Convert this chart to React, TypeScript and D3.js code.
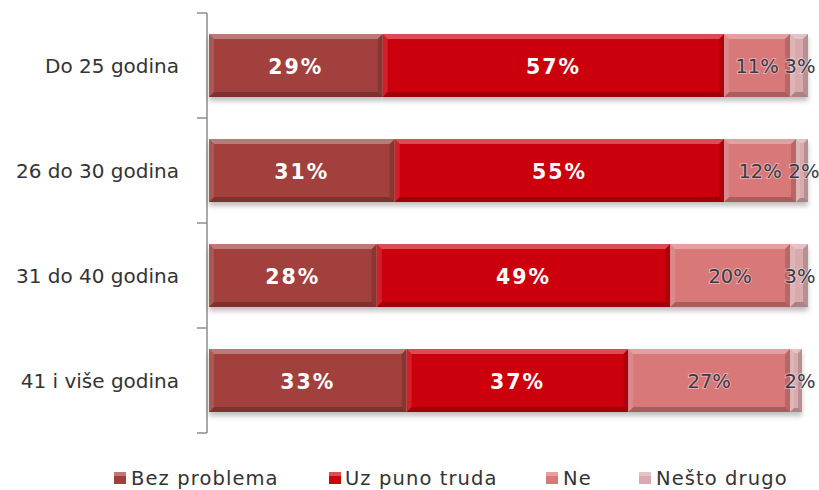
import React from "react";
import * as d3 from "d3";

const categories = ["Do 25 godina", "26 do 30 godina", "31 do 40 godina", "41 i više godina"];
const seriesNames = ["Bez problema", "Uz puno truda", "Ne", "Nešto drugo"];
const bezProblema = [29, 31, 28, 33];
const uzPunoTruda = [57, 55, 49, 37];
const ne = [11, 12, 20, 27];
const nestoDrugo = [3, 2, 3, 2];
const seriesValues = [bezProblema, uzPunoTruda, ne, nestoDrugo];
const colors = ["#a13f3d", "#cc0608", "#d97878", "#d9aaad"];
const labelColors = ["#ffffff", "#ffffff", "#3a3a48", "#3a3a48"];

const W = 819;
const H = 490;
const FONT = "DejaVu Sans, Verdana, sans-serif";

export default function App() {
  const y = d3.scaleBand<string>().domain(categories).range([13, 433]).paddingInner(0.4).paddingOuter(0.2);
  const x = d3.scaleLinear().domain([0, 100]).range([209, 808]);
  const step = y.step();
  const bw = y.bandwidth();
  const bev = 5;

  const boundaries = d3.range(categories.length + 1).map((i) => 13 + i * step);

  const legend = [
    { sq: 114, tx: 131, name: seriesNames[0] },
    { sq: 329, tx: 345, name: seriesNames[1] },
    { sq: 546, tx: 563, name: seriesNames[2] },
    { sq: 639, tx: 656, name: seriesNames[3] },
  ];

  return (
    <svg width={W} height={H} style={{ position: "absolute", left: 0, top: 0, background: "#fff" }}>
      <defs>
        <filter id="sh" x="-5%" y="-20%" width="110%" height="160%">
          <feDropShadow dx="0" dy="4" stdDeviation="2.5" floodColor="#000" floodOpacity="0.25" />
        </filter>
      </defs>
      <line x1={207} x2={207} y1={13} y2={433} stroke="#8c8c8c" strokeWidth={1.5} />
      {boundaries.map((b, i) => (
        <line key={i} x1={197} x2={207} y1={b} y2={b} stroke="#8c8c8c" strokeWidth={1.5} />
      ))}
      {categories.map((c, ci) => {
        const y0 = y(c)!;
        let cum = 0;
        const segs = seriesValues.map((s, si) => {
          const v = s[ci];
          const x0 = x(cum);
          cum += v;
          const x1 = x(cum);
          return { x0, x1, v, si };
        });
        return (
          <g key={c}>
            <text x={179} y={y0 + bw / 2} textAnchor="end" dominantBaseline="central" fontFamily={FONT} fontSize={20} fill="#333">
              {c}
            </text>
            <g filter="url(#sh)">
              {segs.map((s) => (
                <rect key={s.si} x={s.x0} y={y0} width={s.x1 - s.x0} height={bw} fill={colors[s.si]} />
              ))}
            </g>
            {segs.map((s) => {
              const w = s.x1 - s.x0;
              const b = Math.min(bev, w / 3);
              return (
                <g key={"b" + s.si}>
                  <polygon points={`${s.x0},${y0} ${s.x1},${y0} ${s.x1 - b},${y0 + b} ${s.x0 + b},${y0 + b}`} fill="#fff" opacity={0.3} />
                  <polygon points={`${s.x0},${y0 + bw} ${s.x1},${y0 + bw} ${s.x1 - b},${y0 + bw - b} ${s.x0 + b},${y0 + bw - b}`} fill="#000" opacity={0.22} />
                  <polygon points={`${s.x0},${y0} ${s.x0 + b},${y0 + b} ${s.x0 + b},${y0 + bw - b} ${s.x0},${y0 + bw}`} fill="#fff" opacity={0.12} />
                  <polygon points={`${s.x1},${y0} ${s.x1 - b},${y0 + b} ${s.x1 - b},${y0 + bw - b} ${s.x1},${y0 + bw}`} fill="#000" opacity={0.15} />
                </g>
              );
            })}
            {segs.map((s) => {
              const mid = (s.x0 + s.x1) / 2;
              const cx = s.si === 3 ? Math.min(Math.max(mid, s.x0 + 10), 804) : mid;
              const white = s.si < 2;
              return (
                <text
                  key={"t" + s.si}
                  x={cx}
                  y={y0 + bw / 2 + 1}
                  textAnchor="middle"
                  dominantBaseline="central"
                  fontFamily={FONT}
                  fontSize={white ? 20.5 : 19.5}
                  letterSpacing={white ? 2 : 0}
                  fontWeight={white ? "bold" : "normal"}
                  fill={labelColors[s.si]}
                  stroke={white ? "none" : "#ffffff"}
                  strokeOpacity={0.4}
                  strokeWidth={2}
                  paintOrder="stroke"
                >
                  {s.v}%
                </text>
              );
            })}
          </g>
        );
      })}
      {legend.map((l, i) => (
        <g key={l.name}>
          <rect x={l.sq} y={472} width={12} height={12} fill={colors[i]} />
          <rect x={l.sq} y={472} width={12} height={4} fill="#fff" opacity={0.3} />
          <text x={l.tx} y={478} dominantBaseline="central" fontFamily={FONT} fontSize={19.5} letterSpacing={1.1} fill="#333">
            {l.name}
          </text>
        </g>
      ))}
    </svg>
  );
}
